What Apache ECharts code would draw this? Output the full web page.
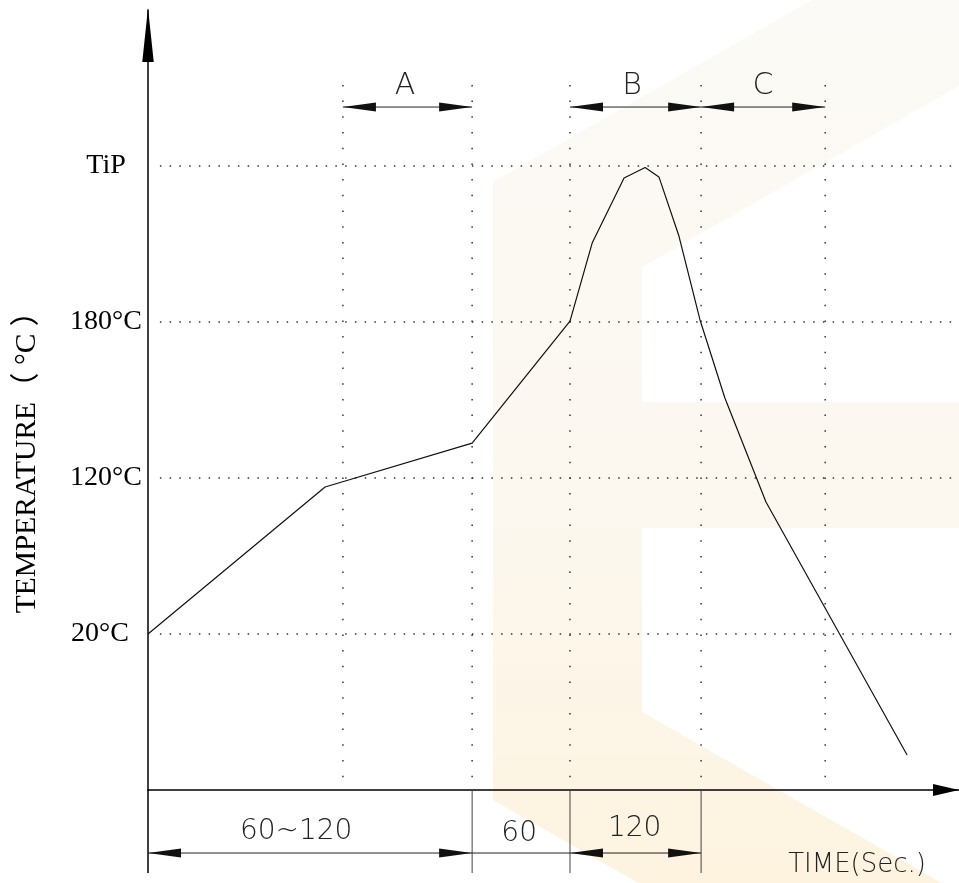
<!DOCTYPE html>
<html>
<head>
<meta charset="utf-8">
<script src="https://cdn.jsdelivr.net/npm/echarts@6/dist/echarts.min.js"></script>
<style>
html,body{margin:0;padding:0;background:#fff;}
#chart{width:959px;height:883px;}
</style>
</head>
<body>
<div id="chart"></div>
<script>
// ---- data (schematic units: time 0..300, temperature level 0..5) ----
const tempLevels = [1, 2, 3, 4];
const tempLabels = ['20°C', '120°C', '180°C', 'TiP'];
const timeMarks = [72.1, 119.9, 156.1, 204.6, 250.5];

const profileTime  = [0, 65.5, 119.9, 156.1, 164.3, 176.1, 183.9, 189.0, 196.4, 204.2, 213.4, 228.6, 280.8];
const profileLevel = [1.0, 1.942, 2.224, 3.006, 3.506, 3.923, 3.99, 3.93, 3.551, 3.013, 2.513, 1.846, 0.224];

// top zone dimensions: [start, end]
const zoneNames = ['A', 'B', 'C'];
const zoneStart = [72.1, 156.1, 204.6];
const zoneEnd   = [119.9, 204.6, 250.5];
const zoneLabelX = [95.1, 179.1, 227.5];
const zoneLevel = 4.378;
const zoneLabelLevel = 4.513;

// bottom time dimensions
const durLabels = ['60~120', '60', '120'];
const durStart = [0, 119.9, 156.1];
const durEnd   = [119.9, 156.1, 204.6];
const durArrows = [1, 0, 1];
const durLabelX = [54.8, 137.3, 180.0];
const durLabelLevel = [-0.269, -0.282, -0.25];
const durLevel = -0.404;
const extLevel = -0.532;
const extTimes = [0, 119.9, 156.1, 204.6];

const xName = 'TIME(Sec.)';
const xNamePos = [262.3, -0.481];
const yName = 'TEMPERATURE（ °C ）';

const xMax = 300, yMax = 5;
const hGridStart = 4.4;
const vGridTop = 4.52;

// ---- build ----
const chart = echarts.init(document.getElementById('chart'), null, {renderer: 'canvas'});
const labelMap = {};
tempLevels.forEach((l, i) => labelMap[l] = tempLabels[i]);

const ARROW_L = 33, ARROW_H = 9;
const thinFont = '200 28px "DejaVu Sans", "Liberation Sans", sans-serif';
const serif = '"Liberation Serif", "Times New Roman", serif';

function dimItem(p1, p2, left, right) {
  const ch = [{
    type: 'line',
    shape: {x1: p1[0], y1: p1[1], x2: p2[0], y2: p2[1]},
    style: {stroke: '#222', lineWidth: 1}
  }];
  if (left) ch.push({
    type: 'polygon',
    shape: {points: [[p1[0], p1[1]], [p1[0] + ARROW_L, p1[1] - ARROW_H / 2], [p1[0] + ARROW_L, p1[1] + ARROW_H / 2]]},
    style: {fill: '#111'}
  });
  if (right) ch.push({
    type: 'polygon',
    shape: {points: [[p2[0], p2[1]], [p2[0] - ARROW_L, p2[1] - ARROW_H / 2], [p2[0] - ARROW_L, p2[1] + ARROW_H / 2]]},
    style: {fill: '#111'}
  });
  return {type: 'group', children: ch};
}

const option = {
  animation: false,
  backgroundColor: '#fff',
  grid: {left: 148, right: 0, top: 10, bottom: 93, containLabel: false},
  xAxis: {
    type: 'value', min: 0, max: xMax,
    axisLine: {show: true, lineStyle: {color: '#000', width: 1.5},
      symbol: ['none', 'triangle'], symbolSize: [12, 26], symbolOffset: [0, -13]},
    axisTick: {show: false}, axisLabel: {show: false}, splitLine: {show: false}
  },
  yAxis: {
    type: 'value', min: 0, max: yMax, interval: 1,
    axisLine: {show: true, lineStyle: {color: '#000', width: 1.5},
      symbol: ['none', 'triangle'], symbolSize: [11.5, 54], symbolOffset: [0, -25]},
    axisTick: {show: false}, splitLine: {show: false},
    axisLabel: {
      show: true, margin: 42, align: 'center', color: '#000',
      fontFamily: serif, fontSize: 28,
      formatter: v => v === 1 ? '{s|' + labelMap[v] + '}' : (labelMap[v] || ''),
      rich: {s: {fontFamily: serif, fontSize: 28, color: '#000', padding: [0, 12, 0, 0]}}
    }
  },
  graphic: {
    elements: [
      {
        type: 'polygon', z: -100, silent: true,
        shape: {points: [[493,182],[959,-84],[959,86],[642,267],[642,402],[959,402],[959,528],[642,528],[642,712],[959,893],[959,1066],[493,800]]},
        style: {fill: new echarts.graphic.LinearGradient(0, 0, 0, 883, [
          {offset: 0, color: '#fcfaf6'}, {offset: 0.55, color: '#fcf8f0'}, {offset: 1, color: '#fdf3df'}], true)}
      },
      {
        type: 'text', x: 27, y: 455, rotation: Math.PI / 2, silent: true,
        style: {text: yName, fill: '#000', align: 'center', verticalAlign: 'middle',
          font: '29.5px "Liberation Serif", "Noto Sans CJK SC", serif'}
      }
    ]
  },
  series: [
    // horizontal dotted grid lines
    {
      type: 'custom', silent: true, z: 1,
      data: tempLevels.map(l => [l]),
      renderItem: (params, api) => {
        const p1 = api.coord([hGridStart, api.value(0)]);
        const p2 = api.coord([xMax, api.value(0)]);
        return {type: 'line', shape: {x1: p1[0], y1: p1[1], x2: p2[0], y2: p2[1]},
          style: {stroke: '#333', lineWidth: 1.5, lineDash: [1.5, 8.25]}};
      }
    },
    // vertical dotted grid lines
    {
      type: 'custom', silent: true, z: 1,
      data: timeMarks.map(t => [t]),
      renderItem: (params, api) => {
        const p1 = api.coord([api.value(0), vGridTop]);
        const p2 = api.coord([api.value(0), 0]);
        return {type: 'line', shape: {x1: p1[0], y1: p1[1], x2: p2[0], y2: p2[1]},
          style: {stroke: '#333', lineWidth: 1.5, lineDash: [1.5, 14.2]}};
      }
    },
    // top zone dimension arrows
    {
      type: 'custom', silent: true, z: 3,
      data: zoneStart.map((s, i) => [s, zoneEnd[i]]),
      renderItem: (params, api) => {
        const p1 = api.coord([api.value(0), zoneLevel]);
        const p2 = api.coord([api.value(1), zoneLevel]);
        return dimItem(p1, p2, 1, 1);
      }
    },
    // top zone labels
    {
      type: 'custom', silent: true, z: 3,
      data: zoneNames.map((n, i) => [zoneLabelX[i], zoneLabelLevel]),
      renderItem: (params, api) => {
        const p = api.coord([api.value(0), api.value(1)]);
        return {type: 'text', x: p[0], y: p[1],
          style: {text: zoneNames[params.dataIndex], fill: '#222', align: 'center', verticalAlign: 'middle',
            font: '200 30px "DejaVu Sans", "Liberation Sans", sans-serif'}};
      }
    },
    // extension lines below x axis
    {
      type: 'custom', silent: true, z: 3,
      data: extTimes.map(t => [t]),
      renderItem: (params, api) => {
        const p1 = api.coord([api.value(0), 0]);
        const p2 = api.coord([api.value(0), extLevel]);
        return {type: 'line', shape: {x1: p1[0], y1: p1[1], x2: p2[0], y2: p2[1]},
          style: {stroke: params.dataIndex === 0 ? '#000' : '#444', lineWidth: params.dataIndex === 0 ? 1.5 : 1}};
      }
    },
    // bottom duration dimensions
    {
      type: 'custom', silent: true, z: 3,
      data: durStart.map((s, i) => [s, durEnd[i], durArrows[i]]),
      renderItem: (params, api) => {
        const p1 = api.coord([api.value(0), durLevel]);
        const p2 = api.coord([api.value(1), durLevel]);
        const a = api.value(2);
        return dimItem(p1, p2, a, a);
      }
    },
    // bottom duration labels + axis name
    {
      type: 'custom', silent: true, z: 3,
      data: durLabels.map((n, i) => [durLabelX[i], durLabelLevel[i]]).concat([[xNamePos[0], xNamePos[1]]]),
      renderItem: (params, api) => {
        const p = api.coord([api.value(0), api.value(1)]);
        const isName = params.dataIndex === durLabels.length;
        return {type: 'text', x: p[0], y: p[1],
          style: {text: isName ? xName : durLabels[params.dataIndex], fill: '#222', align: 'center', verticalAlign: 'middle',
            font: isName ? '200 26px "DejaVu Sans", "Liberation Sans", sans-serif' : thinFont}};
      }
    },
    // temperature profile
    {
      type: 'line', z: 5, silent: true,
      data: profileTime.map((t, i) => [t, profileLevel[i]]),
      symbol: 'none', smooth: false,
      lineStyle: {color: '#111', width: 1.2}
    }
  ]
};
chart.setOption(option);
</script>
</body>
</html>
